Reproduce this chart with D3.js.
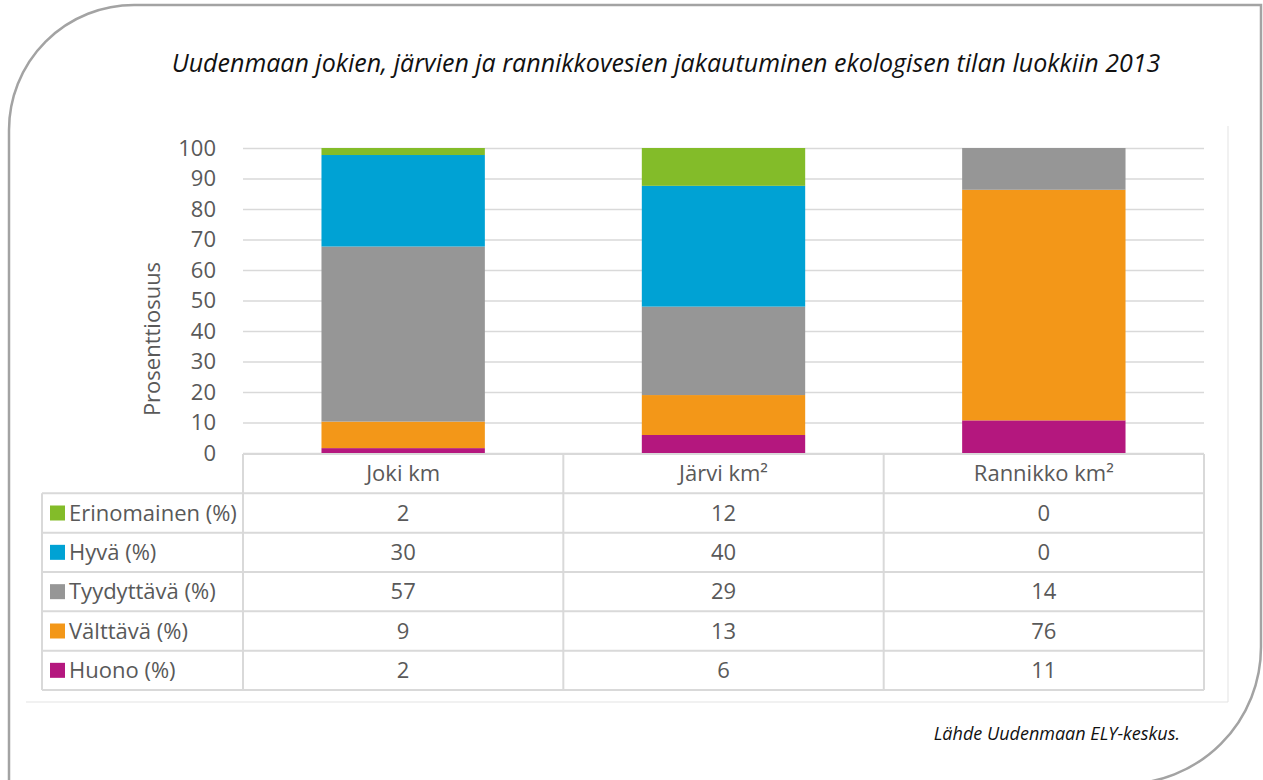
<!DOCTYPE html>
<html>
<head>
<meta charset="utf-8">
<script src="https://cdn.jsdelivr.net/npm/d3@7"></script>
<style>
  body { margin: 0; background: #fff; }
  svg { display: block; font-family: "Open Sans", sans-serif; }
</style>
</head>
<body>
<div id="chart"></div>
<script>
// data (bars unrounded, table shows them rounded)
var categories = ["Joki km", "Järvi km²", "Rannikko km²"];
var classes = ["Erinomainen (%)", "Hyvä (%)", "Tyydyttävä (%)", "Välttävä (%)", "Huono (%)"];
var erinomainen = [2.3, 12.4, 0];
var hyva = [30.0, 39.6, 0];
var tyydyttava = [57.4, 29.0, 13.7];
var valttava = [8.7, 13.1, 75.6];
var huono = [1.6, 5.9, 10.7];
var classColors = ["#83bc29", "#00a2d4", "#969696", "#f39718", "#b4177e"];
var yTicks = [0, 10, 20, 30, 40, 50, 60, 70, 80, 90, 100];

var series = [erinomainen, hyva, tyydyttava, valttava, huono];

// rows for d3.stack
var rows = categories.map(function(c, i) {
    var r = { cat: c };
    classes.forEach(function(k, j) { r[k] = series[j][i]; });
    return r;
});

var W = 1263, H = 780;
var plotLeft = 243, plotRight = 1204, plotTop = 148, plotBottom = 453;

var svg = d3.select("#chart").append("svg")
    .attr("width", W)
    .attr("height", H);

// outer frame, rounded top-left and bottom-right
var R1 = 125, R2 = 137, fx0 = 9, fy0 = 5, fx1 = 1261, fy1 = 784;
svg.append("path")
    .attr("d", "M" + fx0 + "," + (fy1 + 20) +
        " L" + fx0 + "," + (fy0 + R1) +
        " A" + R1 + "," + R1 + " 0 0 1 " + (fx0 + R1) + "," + fy0 +
        " L" + fx1 + "," + fy0 +
        " L" + fx1 + "," + (fy1 - R2) +
        " A" + R2 + "," + R2 + " 0 0 1 " + (fx1 - R2) + "," + fy1 +
        " L" + fx0 + "," + fy1)
    .attr("fill", "none")
    .attr("stroke", "#a3a3a3")
    .attr("stroke-width", 2.5);

// chart area edge (only bottom and right visible)
svg.append("polyline")
    .attr("points", "26,702 1228,702 1228,126")
    .attr("fill", "none")
    .attr("stroke", "#e3e3e3")
    .attr("stroke-width", 1);

svg.append("text")
    .attr("x", 666)
    .attr("y", 72)
    .attr("text-anchor", "middle")
    .style("font-size", "25px")
    .style("font-style", "italic")
    .style("fill", "#111")
    .text("Uudenmaan jokien, järvien ja rannikkovesien jakautuminen ekologisen tilan luokkiin 2013");

var x = d3.scaleBand().domain(categories).range([plotLeft, plotRight]).paddingInner(0.49).paddingOuter(0.245);
var xCol = d3.scaleBand().domain(categories).range([plotLeft, plotRight]);
var y = d3.scaleLinear().domain([0, 100]).range([plotBottom, plotTop]);

// y axis with gridlines
var yAxis = svg.append("g")
    .attr("transform", "translate(" + plotLeft + ",0)")
    .call(d3.axisLeft(y).tickValues(yTicks).tickSize(-(plotRight - plotLeft)).tickPadding(27));
yAxis.select(".domain").remove();
yAxis.selectAll(".tick line").attr("stroke", "#d9d9d9").attr("stroke-width", 1.5);
yAxis.selectAll(".tick text")
    .style("font-size", "22px")
    .style("font-family", "'Open Sans', sans-serif")
    .attr("fill", "#595959");

svg.append("text")
    .attr("transform", "translate(160,339) rotate(-90)")
    .attr("text-anchor", "middle")
    .style("font-size", "22px")
    .style("fill", "#595959")
    .text("Prosenttiosuus");

// stacked bars, bottom class first
var stack = d3.stack().keys(classes.slice().reverse());
var stacked = stack(rows);
var color = d3.scaleOrdinal().domain(classes).range(classColors);

svg.append("g").selectAll("g")
    .data(stacked)
    .enter().append("g")
    .attr("fill", function(d) { return color(d.key); })
    .selectAll("rect")
    .data(function(d) { return d; })
    .enter().append("rect")
    .attr("x", function(d) { return x(d.data.cat); })
    .attr("y", function(d) { return y(d[1]); })
    .attr("width", x.bandwidth())
    .attr("height", function(d) { return y(d[0]) - y(d[1]); });

// data table under the plot
var tableTop = 454, tableBottom = 690, labelLeft = 42;
var rowY = d3.scaleBand().domain(["head"].concat(classes)).range([tableTop, tableBottom]);
var grid = svg.append("g").attr("stroke", "#d9d9d9").attr("stroke-width", 2);

// horizontal lines
["head"].concat(classes).forEach(function(k) {
    var x0 = k === "head" ? plotLeft : labelLeft;
    grid.append("line")
        .attr("x1", x0).attr("x2", plotRight)
        .attr("y1", rowY(k)).attr("y2", rowY(k));
});
grid.append("line")
    .attr("x1", labelLeft).attr("x2", plotRight)
    .attr("y1", tableBottom).attr("y2", tableBottom);

// vertical lines
grid.append("line")
    .attr("x1", labelLeft).attr("x2", labelLeft)
    .attr("y1", rowY(classes[0])).attr("y2", tableBottom);
categories.forEach(function(c) {
    grid.append("line")
        .attr("x1", xCol(c)).attr("x2", xCol(c))
        .attr("y1", tableTop).attr("y2", tableBottom);
});
grid.append("line")
    .attr("x1", plotRight).attr("x2", plotRight)
    .attr("y1", tableTop).attr("y2", tableBottom);

var tText = svg.append("g")
    .style("font-size", "22px")
    .style("fill", "#595959");

// header
tText.selectAll(".head")
    .data(categories)
    .enter().append("text")
    .attr("class", "head")
    .attr("x", function(d) { return xCol(d) + xCol.bandwidth() / 2; })
    .attr("y", rowY("head") + rowY.bandwidth() / 2)
    .attr("dy", "0.35em")
    .attr("text-anchor", "middle")
    .text(function(d) { return d; });

// legend labels with swatches
classes.forEach(function(k, j) {
    var cy = rowY(k) + rowY.bandwidth() / 2;
    svg.append("rect")
        .attr("x", 50).attr("y", cy - 7.5)
        .attr("width", 15).attr("height", 15)
        .attr("fill", classColors[j]);
    tText.append("text")
        .attr("x", 69)
        .attr("y", cy)
        .attr("dy", "0.35em")
        .text(k);
    tText.selectAll(".v" + j)
        .data(series[j])
        .enter().append("text")
        .attr("class", "v" + j)
        .attr("x", function(d, i) { return xCol(categories[i]) + xCol.bandwidth() / 2; })
        .attr("y", cy)
        .attr("dy", "0.35em")
        .attr("text-anchor", "middle")
        .text(function(d) { return Math.round(d); });
});

svg.append("text")
    .attr("x", 1180)
    .attr("y", 740)
    .attr("text-anchor", "end")
    .style("font-size", "18px")
    .style("font-style", "italic")
    .style("fill", "#111")
    .text("Lähde Uudenmaan ELY-keskus.");
</script>
</body>
</html>
